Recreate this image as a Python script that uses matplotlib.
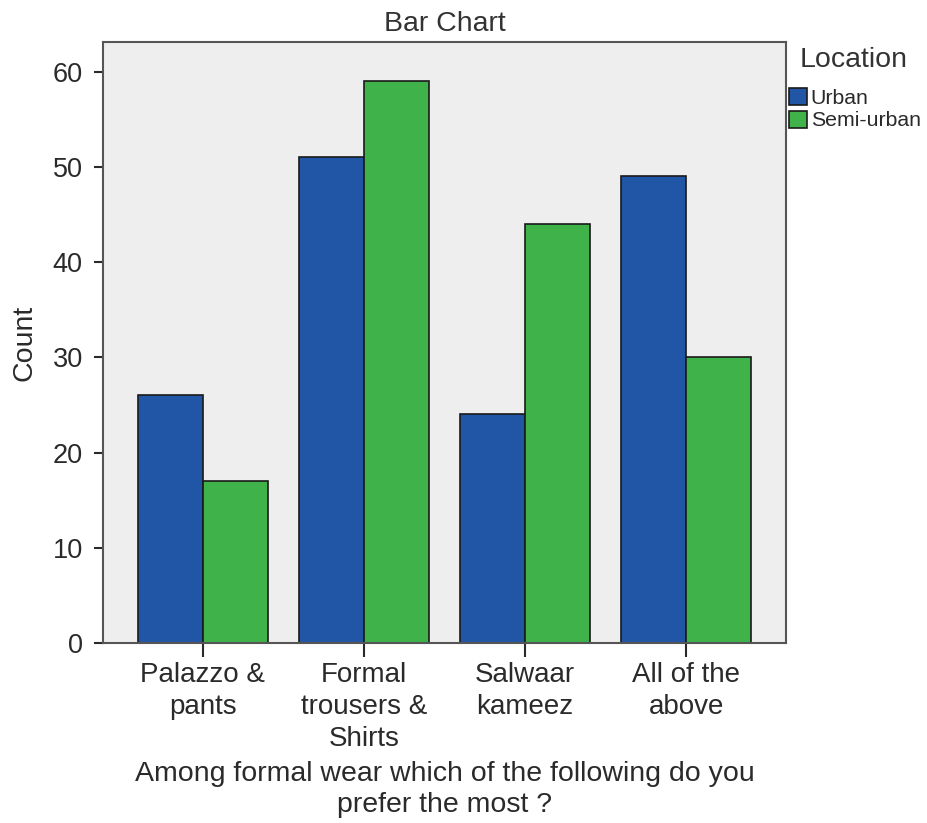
import numpy as np
import matplotlib.pyplot as plt

plt.rcParams['font.family'] = ['Liberation Sans', 'DejaVu Sans']

categories = ["Palazzo &\npants", "Formal\ntrousers &\nShirts", "Salwaar\nkameez", "All of the\nabove"]
urban = [26, 51, 24, 49]
semi_urban = [17, 59, 44, 30]

W, H = 928, 823
fig = plt.figure(figsize=(W/100, H/100), dpi=100)
ax = fig.add_axes([103/W, 1 - 643/H, (786-103)/W, (643-42)/H])

x = np.arange(len(categories))
w = 0.403
ax.bar(x - w/2, urban, w, color='#2155a5', edgecolor='#1a1a1a', linewidth=1.2, label='Urban')
ax.bar(x + w/2, semi_urban, w, color='#3fb34a', edgecolor='#1a1a1a', linewidth=1.2, label='Semi-urban')

ax.set_facecolor('#eeeeee')
ax.set_xlim(-0.62, 3.62)
ax.set_ylim(0, 63.1)
ax.set_yticks([0, 10, 20, 30, 40, 50, 60])
ax.set_xticks(x)
ax.set_xticklabels(categories, fontsize=20, color='#2a2a2a', linespacing=1.3)
ax.tick_params(axis='y', labelsize=19.5, colors='#2a2a2a', length=6.5, width=1.5, pad=8)
ax.tick_params(axis='x', length=10, width=1.5, colors='#2a2a2a', pad=4)
for s in ax.spines.values():
    s.set_color('#555555')
    s.set_linewidth(1.5)

ax.set_title('Bar Chart', fontsize=20.5, color='#333333', pad=8)
ax.set_ylabel('Count', fontsize=20.5, color='#2a2a2a', labelpad=11)
ax.set_xlabel('Among formal wear which of the following do you\nprefer the most ?', fontsize=20.5,
              color='#2a2a2a', labelpad=6, linespacing=1.25)

# legend title drawn separately so the gap under it matches
fig.text(800/W, 1 - 60/H, 'Location', fontsize=20.5, color='#333333', va='center', ha='left')
leg = fig.legend(loc='upper left', bbox_to_anchor=(789/W, 1 - 88/H), frameon=False,
                 fontsize=15.3, handlelength=0.87, handleheight=0.87,
                 handletextpad=0.15, borderaxespad=0, labelspacing=0.12, borderpad=0)
for t in leg.get_texts():
    t.set_color('#2a2a2a')
for h in leg.legend_handles:
    h.set_linewidth(1.2)

fig.savefig('out.png', dpi=100)
